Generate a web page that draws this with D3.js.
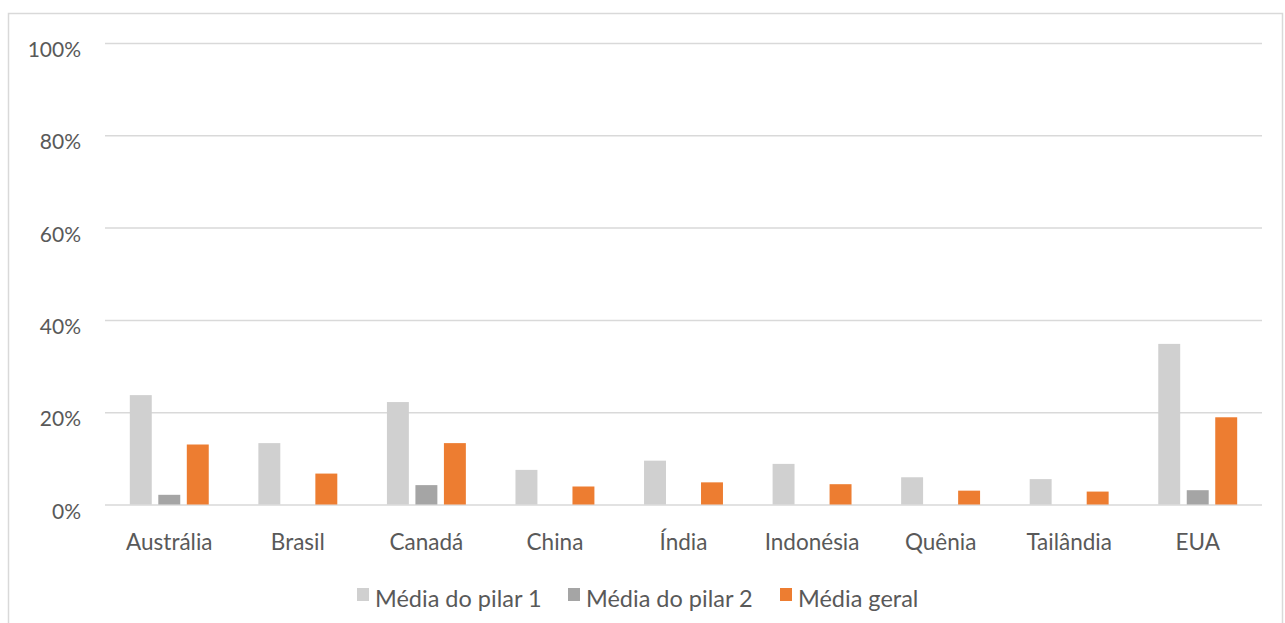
<!DOCTYPE html>
<html>
<head>
<meta charset="utf-8">
<script src="https://cdn.jsdelivr.net/npm/d3@7"></script>
<style>
  body { margin: 0; background: #fff; }
  svg { display: block; }
  svg text { font-family: Lato, "Open Sans", sans-serif; }
</style>
</head>
<body>
<svg id="chart" width="1285" height="623"></svg>
<script>
const countries = ["Austrália", "Brasil", "Canadá", "China", "Índia", "Indonésia", "Quênia", "Tailândia", "EUA"];
const series = ["Média do pilar 1", "Média do pilar 2", "Média geral"];
const pilar1 = [0.237, 0.133, 0.222, 0.075, 0.095, 0.088, 0.059, 0.055, 0.348];
const pilar2 = [0.021, 0, 0.042, 0, 0, 0, 0, 0, 0.031];
const geral  = [0.130, 0.067, 0.133, 0.039, 0.048, 0.044, 0.030, 0.028, 0.189];
const yTicks = [0, 0.2, 0.4, 0.6, 0.8, 1.0];
const colors = ["#d0d0d0", "#a5a5a5", "#ed7d31"];

const data = countries.map((c, i) => ({ country: c, values: [pilar1[i], pilar2[i], geral[i]] }));

const svg = d3.select("#chart");
const margin = { top: 43, right: 23, bottom: 118.5, left: 105 };
const width = 1285, height = 623;
const font = "Lato, 'Open Sans', sans-serif";

// frame
svg.append("rect")
  .attr("x", 8.5).attr("y", 13.5)
  .attr("width", 1274).attr("height", 640)
  .attr("fill", "none")
  .attr("stroke", "#d9d9d9")
  .attr("stroke-width", 1.5);

const x0 = d3.scaleBand()
  .domain(countries)
  .range([margin.left, width - margin.right])
  .paddingInner(0.386)
  .paddingOuter(0.193);

const x1 = d3.scaleBand()
  .domain(d3.range(series.length))
  .range([0, x0.bandwidth()])
  .paddingInner(0.23)
  .paddingOuter(0);

const y = d3.scaleLinear()
  .domain([0, 1])
  .range([height - margin.bottom, margin.top]);

// gridlines + y labels
const yAxis = g => g
  .attr("transform", `translate(${margin.left},0)`)
  .call(d3.axisLeft(y).tickValues(yTicks).tickFormat(d3.format(".0%")).tickSize(0).tickPadding(24))
  .attr("font-family", font)
  .call(g => g.select(".domain").remove())
  .call(g => g.selectAll(".tick line").clone()
    .attr("x2", width - margin.right - margin.left)
    .attr("stroke", "#d9d9d9")
    .attr("stroke-width", 1.5))
  .call(g => g.selectAll(".tick text")
    .attr("fill", "#595959")
    .attr("font-size", 21)
    .attr("dy", "0.65em"));

svg.append("g").call(yAxis);

// bars
svg.append("g")
  .selectAll("g")
  .data(data)
  .join("g")
  .attr("transform", d => `translate(${x0(d.country)},0)`)
  .selectAll("rect")
  .data(d => d.values.map((v, k) => ({ k, v })).filter(e => e.v > 0))
  .join("rect")
  .attr("x", e => x1(e.k))
  .attr("y", e => y(e.v))
  .attr("width", x1.bandwidth())
  .attr("height", e => y(0) - y(e.v))
  .attr("fill", e => colors[e.k]);

// x labels
const xAxis = g => g
  .attr("transform", `translate(0,${y(0)})`)
  .call(d3.axisBottom(x0).tickSize(0).tickPadding(30))
  .attr("font-family", font)
  .call(g => g.select(".domain").remove())
  .call(g => g.selectAll(".tick text")
    .attr("fill", "#595959")
    .attr("font-size", 22.5));

svg.append("g").call(xAxis);

// legend
const legendX = [357, 568, 780];
const legend = svg.append("g").attr("font-family", font);
series.forEach((s, k) => {
  legend.append("rect")
    .attr("x", legendX[k]).attr("y", 588)
    .attr("width", 12).attr("height", 13)
    .attr("fill", colors[k]);
  legend.append("text")
    .attr("x", legendX[k] + 18).attr("y", 607)
    .attr("fill", "#595959")
    .attr("font-size", 23.5)
    .text(s);
});
</script>
</body>
</html>
